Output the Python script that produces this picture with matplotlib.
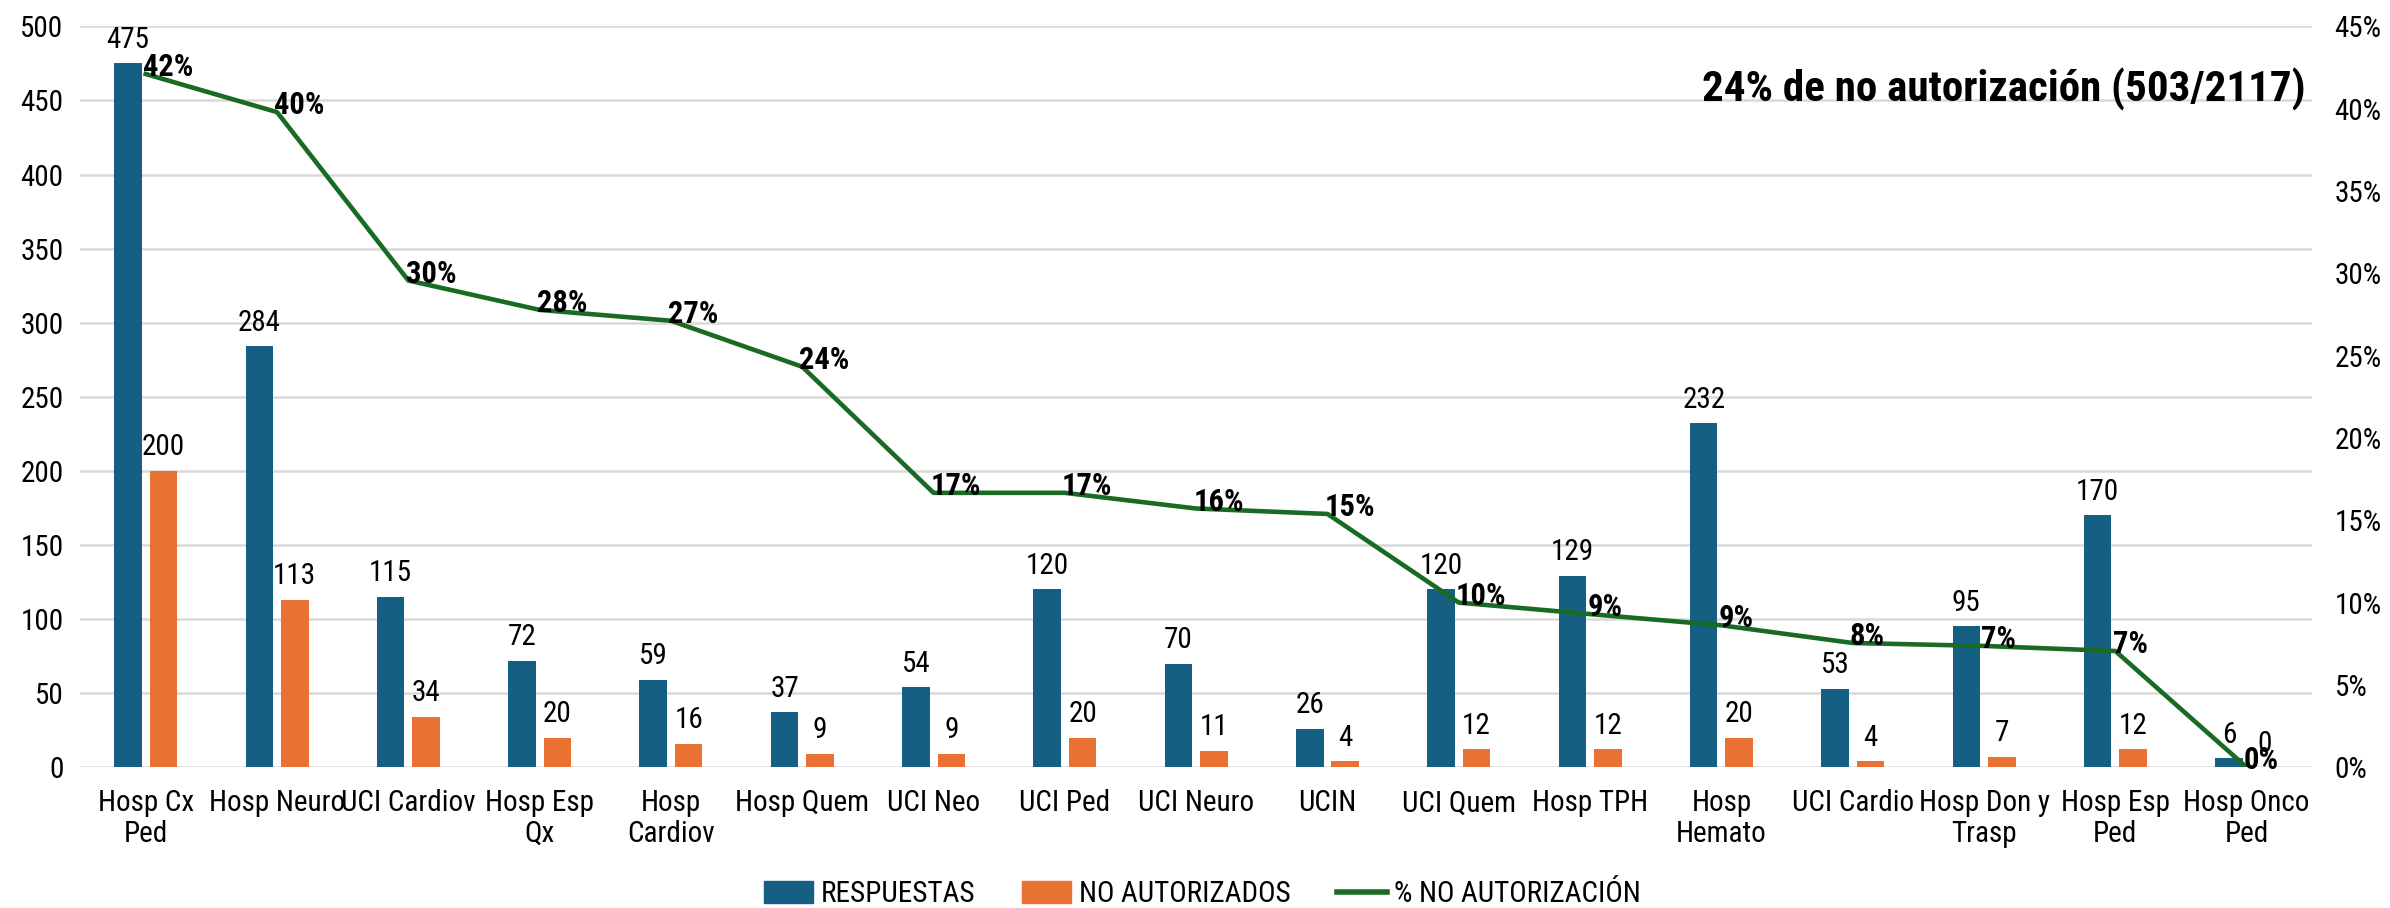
import matplotlib
matplotlib.use("Agg")
import matplotlib.pyplot as plt
import numpy as np
from matplotlib.patches import Patch
from matplotlib.lines import Line2D

# fuente estrecha parecida a Arial Narrow
plt.rcParams['font.family'] = ['Roboto Condensed', 'DejaVu Sans']

# datos
categorias = ["Hosp Cx\nPed", "Hosp Neuro", "UCI Cardiov", "Hosp Esp\nQx", "Hosp\nCardiov",
              "Hosp Quem", "UCI Neo", "UCI Ped", "UCI Neuro", "UCIN", "UCI Quem",
              "Hosp TPH", "Hosp\nHemato", "UCI Cardio", "Hosp Don y\nTrasp",
              "Hosp Esp\nPed", "Hosp Onco\nPed"]
respuestas = [475, 284, 115, 72, 59, 37, 54, 120, 70, 26, 120, 129, 232, 53, 95, 170, 6]
no_autorizados = [200, 113, 34, 20, 16, 9, 9, 20, 11, 4, 12, 12, 20, 4, 7, 12, 0]
pct_no_aut = [n / r * 100 for n, r in zip(no_autorizados, respuestas)]

azul = "#156082"
naranja = "#E97132"
verde = "#196B24"
fs = 21

fig = plt.figure(figsize=(23.9, 9.08), dpi=100)
ax = fig.add_axes([0.0335, 0.155, 0.934, 0.816])
ax2 = ax.twinx()

x = np.arange(len(categorias))
w = 0.21
b1 = ax.bar(x - 0.135, respuestas, w, color=azul, zorder=2)
b2 = ax.bar(x + 0.135, no_autorizados, w, color=naranja, zorder=2)

for rect, v in zip(b1, respuestas):
    ax.annotate(str(v), (rect.get_x() + rect.get_width() / 2, v), xytext=(0, 7),
                textcoords="offset points", ha="center", va="bottom", fontsize=fs)
for rect, v in zip(b2, no_autorizados):
    ax.annotate(str(v), (rect.get_x() + rect.get_width() / 2, v), xytext=(0, 7),
                textcoords="offset points", ha="center", va="bottom", fontsize=fs)

ax.set_ylim(0, 500)
ax.set_yticks(np.arange(0, 501, 50))
ax.set_xlim(-0.5, len(categorias) - 0.5)
ax.set_xticks(x)
ax.set_xticklabels(categorias, fontsize=fs, linespacing=1.1)
ax.grid(axis="y", color="#D9D9D9", lw=1.8, zorder=0)
ax.set_axisbelow(True)
ax.tick_params(axis="both", length=0, labelsize=fs)
ax.tick_params(axis="x", pad=16)
ax.tick_params(axis="y", pad=12)
for s in ax.spines.values():
    s.set_visible(False)

ax2.plot(x, pct_no_aut, color=verde, lw=3.3, zorder=3)
for xi, p in zip(x, pct_no_aut):
    ax2.annotate(f"{p:.0f}%", (xi, p), xytext=(-2, 5), textcoords="offset points",
                 ha="left", va="center", fontsize=22, fontweight="bold")
ax2.set_ylim(0, 45)
ax2.set_yticks(np.arange(0, 46, 5))
ax2.set_yticklabels([f"{v}%" for v in range(0, 46, 5)])
ax2.tick_params(axis="y", length=0, labelsize=fs, pad=16)
for s in ax2.spines.values():
    s.set_visible(False)

ax.text(0.997, 0.915, "24% de no autorización (503/2117)", transform=ax.transAxes,
        ha="right", va="center", fontsize=31, fontweight="bold")

handles = [Patch(color=azul, label="RESPUESTAS"),
           Patch(color=naranja, label="NO AUTORIZADOS"),
           Line2D([], [], color=verde, lw=4, label="% NO AUTORIZACIÓN")]
fig.legend(handles=handles, loc="center", bbox_to_anchor=(0.503, 0.015), ncol=3,
           frameon=False, fontsize=fs, handlelength=1.7, handleheight=0.8,
           handletextpad=0.25, columnspacing=1.6)

fig.savefig("out.png", dpi=100)
